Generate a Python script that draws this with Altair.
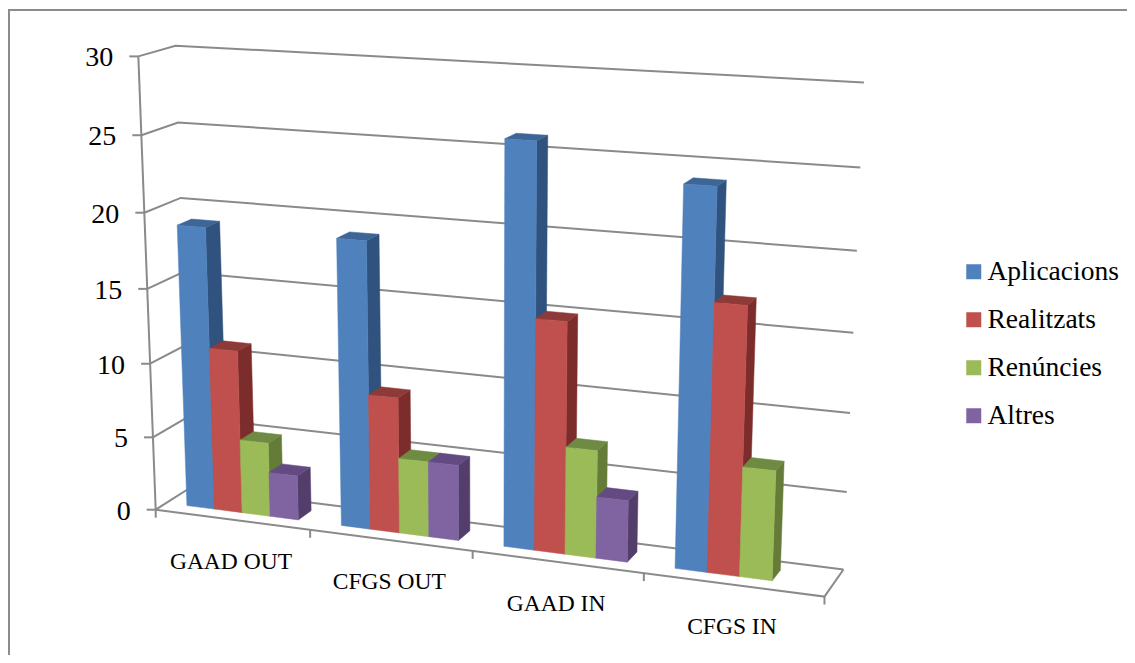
import altair as alt
import numpy as np
import pandas as pd

categories = ["GAAD OUT", "CFGS OUT", "GAAD IN", "CFGS IN"]
series = ["Aplicacions", "Realitzats", "Renúncies", "Altres"]
aplicacions = [19, 19, 26, 24]
realitzats = [11, 9, 15, 17]
renuncies = [5, 5, 7, 7]
altres = [3, 5, 4, 0]
y_ticks = [0, 5, 10, 15, 20, 25, 30]

values = [aplicacions, realitzats, renuncies, altres]
front_colors = ["#4F81BD", "#C0504D", "#9BBB59", "#8064A2"]
side_colors = ["#30527E", "#7C2D2B", "#657C39", "#533E6B"]
top_colors = ["#3D6696", "#8E3A38", "#6F8A42", "#634A82"]
GRID = "#8A8A8A"
FONT = "Liberation Serif"

# camera calibration: (depth-box corners u, d, value) -> page pixel
calib = [
    (0, 0, 30, 137, 57), (0, 0, 25, 141, 135.5), (0, 0, 20, 145, 213), (0, 0, 15, 146.5, 288),
    (0, 0, 10, 150, 362), (0, 0, 5, 153.5, 437), (0, 0, 0, 157, 508),
    (0, 1, 30, 176, 46), (0, 1, 25, 178, 122), (0, 1, 20, 181.5, 198), (0, 1, 0, 189, 490),
    (1, 1, 30, 863, 82), (1, 1, 25, 861, 168), (1, 1, 20, 857, 252), (1, 1, 15, 854, 332),
    (1, 1, 10, 851, 412), (1, 1, 5, 847, 491), (1, 1, 0, 842, 568),
    (.25, 0, 0, 310.7, 530), (.5, 0, 0, 472.7, 552), (.75, 0, 0, 643.3, 574), (1, 0, 0, 824.3, 598),
]
rows = []
for u, d, h, px, py in calib:
    X = [u, d, h / 30, 1]
    rows.append([*X, 0, 0, 0, 0, *[-px / 1000 * c for c in X]])
    rows.append([0, 0, 0, 0, *X, *[-py / 1000 * c for c in X]])
P = np.linalg.svd(np.array(rows))[2][-1].reshape(3, 4)


def proj(u, d, h):
    w = P @ np.array([u, d, h / 30, 1])
    return float(w[0] / w[2] * 1000), float(w[1] / w[2] * 1000)


polys, lines = [], []
pid = 0


def add_line(pts):
    global pid
    pid += 1
    for i, (x, y) in enumerate(pts):
        lines.append({"id": pid, "v": i, "px": x, "py": y})


for h in y_ticks:
    add_line([proj(0, 0, h), proj(0, 1, h), proj(1, 1, h)])
    x, y = proj(0, 0, h)
    add_line([(x - 9, y), (x, y)])
add_line([proj(0, 0, 0), proj(0, 0, 30)])
add_line([proj(0, 0, 0), proj(1, 0, 0), proj(1, 1, 0)])
for i in range(5):
    x, y = proj(i / 4, 0, 0)
    add_line([(x, y), (x, y + 8)])

GAP = 0.137
BAR = (1 - 2 * GAP) / 4
D0, D1 = 0.3, 0.7


def add_poly(pts, color):
    global pid
    pid += 1
    for i, (x, y) in enumerate(pts + pts[:1]):
        polys.append({"id": f"p{pid:04d}", "v": i, "px": x, "py": y, "c": color})


for i in range(4):
    for j in range(4):
        v = values[j][i]
        if v <= 0:
            continue
        u0 = (i + GAP + j * BAR) / 4
        u1 = u0 + BAR / 4
        add_poly([proj(u1, D0, 0), proj(u1, D1, 0), proj(u1, D1, v), proj(u1, D0, v)], side_colors[j])
        add_poly([proj(u0, D0, v), proj(u1, D0, v), proj(u1, D1, v), proj(u0, D1, v)], top_colors[j])
        add_poly([proj(u0, D0, 0), proj(u1, D0, 0), proj(u1, D0, v), proj(u0, D0, v)], front_colors[j])

tick_df = pd.DataFrame(
    [{"t": str(h), "px": proj(0, 0, h)[0] - 25, "py": proj(0, 0, h)[1] + 2} for h in y_ticks]
)
cat_df = pd.DataFrame(
    [{"t": c, "px": proj((i + .5) / 4, 0, 0)[0] - 1, "py": proj((i + .5) / 4, 0, 0)[1] + 42}
     for i, c in enumerate(categories)]
)
border_df = pd.DataFrame({"id": [1, 1, 1], "v": [0, 1, 2],
                          "px": [9, 9, 1127], "py": [655, 10, 10]})

xs = alt.Scale(domain=[8, 1127], nice=False, zero=False)
ys = alt.Scale(domain=[8, 655], reverse=True, nice=False, zero=False)
X = alt.X("px:Q", scale=xs, axis=None)
Y = alt.Y("py:Q", scale=ys, axis=None)

border = alt.Chart(border_df).mark_line(color="#8C8C8C", strokeWidth=2).encode(
    x=X, y=Y, detail="id:N", order="v:Q")
grid = alt.Chart(pd.DataFrame(lines)).mark_line(color=GRID, strokeWidth=2).encode(
    x=X, y=Y, detail="id:N", order="v:Q")
bars = alt.Chart(pd.DataFrame(polys)).mark_line(strokeWidth=0.5).encode(
    x=X, y=Y, detail="id:N", order="v:Q",
    fill=alt.Fill("c:N", scale=None), stroke=alt.Stroke("c:N", scale=None))
ticks = alt.Chart(tick_df).mark_text(font=FONT, fontSize=28, align="right", baseline="middle", color="black").encode(
    x=X, y=Y, text="t:N")
cats = alt.Chart(cat_df).mark_text(font=FONT, fontSize=23.5, align="center", baseline="middle", color="black").encode(
    x=X, y=Y, text="t:N")
legend = alt.Chart(pd.DataFrame({"s": series})).mark_square(size=225, opacity=1).encode(
    x=alt.value(-60), y=alt.value(-60),
    color=alt.Color("s:N", sort=series,
                    scale=alt.Scale(domain=series, range=front_colors),
                    legend=alt.Legend(title=None, orient="none", legendX=952, legendY=250,
                                      symbolType="square", symbolSize=225, symbolOpacity=1,
                                      labelFont=FONT, labelFontSize=27.5, labelColor="black",
                                      labelOffset=0, rowPadding=19, symbolStrokeWidth=0)))

chart = alt.layer(border, grid, bars, ticks, cats, legend).properties(
    width=1119, height=647, padding=0, autosize=alt.AutoSizeParams(type="none"),
    background="white"
).configure_view(stroke=None)

chart.save("out.html", embed_options={"renderer": "svg", "actions": False})
